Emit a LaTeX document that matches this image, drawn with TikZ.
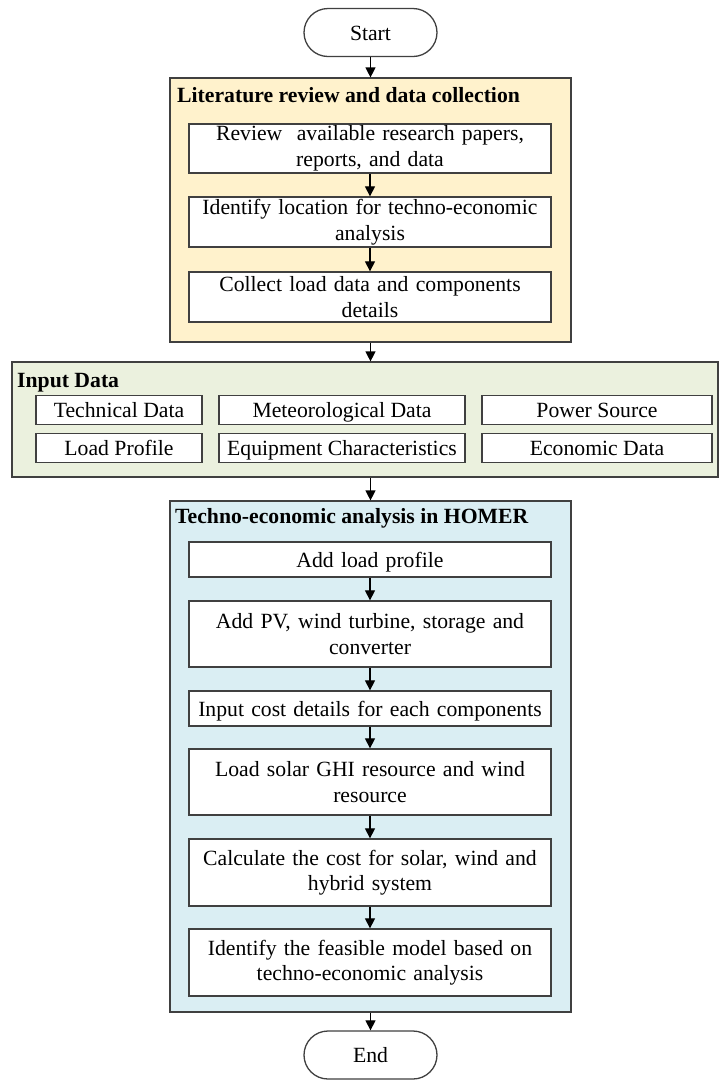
\documentclass[tikz,border=0pt]{standalone}
\usepackage{fontspec}
\setmainfont{Liberation Serif}
\usetikzlibrary{arrows.meta,shapes.misc}
\definecolor{orangeF}{HTML}{FFF2CC}
\definecolor{greenF}{HTML}{EBF1DE}
\definecolor{blueF}{HTML}{DAEEF3}
\definecolor{edge}{HTML}{404040}
\tikzset{
  base/.style={font=\fontsize{21.7}{25.5}\selectfont, text=black},
  cont/.style={draw=edge, line width=1.2pt, inner sep=0pt, minimum width=401pt},
  stepbox/.style={base, draw=edge, fill=white, line width=1.3pt, inner sep=0pt, align=center, minimum width=362pt, text width=356pt},
  oneline/.style={text height=15pt, text depth=0pt},
  databox/.style={base, draw=edge, fill=white, line width=1.3pt, inner sep=0pt, minimum height=28.5pt, text height=14pt, text depth=0pt},
  term/.style={base, draw=edge, fill=white, line width=1.3pt, rounded rectangle, minimum width=133pt, minimum height=48pt, inner sep=0pt, text height=15pt, text depth=0pt},
  ttl/.style={base, font=\fontsize{21.7}{25.5}\selectfont\bfseries, anchor=base west, inner sep=0pt},
  arr/.style={-{Triangle[length=10pt,width=10pt]}, line width=1.2pt, draw=black}
}
\begin{document}
\begin{tikzpicture}[x=1pt,y=-1pt]
\useasboundingbox (0,0) rectangle (720,1080);
% containers
\node[cont, fill=orangeF, minimum height=264pt] (lit) at (370.5,210) {};
\node[cont, fill=greenF, minimum width=706pt, minimum height=115pt] (inp) at (365,419.5) {};
\node[cont, fill=blueF, minimum height=511pt] (homer) at (370.5,756.5) {};
% titles
\node[ttl] (litT) at (177,102) {Literature review and data collection};
\node[ttl] (inpT) at (17,387) {Input Data};
\node[ttl] (homT) at (175,523) {Techno-economic analysis in HOMER};
% terminals
\node[term] (start) at (370.5,32.5) {Start};
\node[term] (end) at (370.5,1055) {End};
% literature steps
\node[stepbox, minimum height=49pt] (r1) at (370,148.5) {Review\ \ available research papers,\\reports, and data};
\node[stepbox, minimum height=50pt] (r2) at (370,222) {Identify location for techno-economic\\analysis};
\node[stepbox, minimum height=50pt] (r3) at (370,297) {Collect load data and components\\details};
% input data
\node[databox, minimum width=166pt] (d1) at (119,410) {Technical Data};
\node[databox, minimum width=246pt] (d2) at (342,410) {Meteorological Data};
\node[databox, minimum width=230pt] (d3) at (597,410) {Power Source};
\node[databox, minimum width=166pt] (d4) at (119,448) {Load Profile};
\node[databox, minimum width=246pt] (d5) at (342,448) {Equipment Characteristics};
\node[databox, minimum width=230pt] (d6) at (597,448) {Economic Data};
% HOMER steps
\node[stepbox, oneline, minimum height=35pt] (h1) at (370,559.5) {Add load profile};
\node[stepbox, minimum height=66pt] (h2) at (370,634) {Add PV, wind turbine, storage and\\converter};
\node[stepbox, oneline, minimum height=35pt] (h3) at (370,708.5) {Input cost details for each components};
\node[stepbox, minimum height=66pt] (h4) at (370,782) {Load solar GHI resource and wind\\resource};
\node[stepbox, minimum height=67pt] (h5) at (370,872.5) {Calculate the cost for solar, wind and\\hybrid system};
\node[stepbox, minimum height=67pt] (h6) at (370,962.5) {Identify the feasible model based on\\techno-economic analysis};
% connectors
\draw[arr] (start.south) -- (start.south |- lit.north);
\draw[arr] (r1.south) -- (r2.north);
\draw[arr] (r2.south) -- (r3.north);
\draw[arr] (lit.south) -- (lit.south |- inp.north);
\draw[arr] (inp.south -| homer.north) -- (homer.north);
\draw[arr] (h1.south) -- (h2.north);
\draw[arr] (h2.south) -- (h3.north);
\draw[arr] (h3.south) -- (h4.north);
\draw[arr] (h4.south) -- (h5.north);
\draw[arr] (h5.south) -- (h6.north);
\draw[arr] (homer.south) -- (end.north);
\end{tikzpicture}
\end{document}
